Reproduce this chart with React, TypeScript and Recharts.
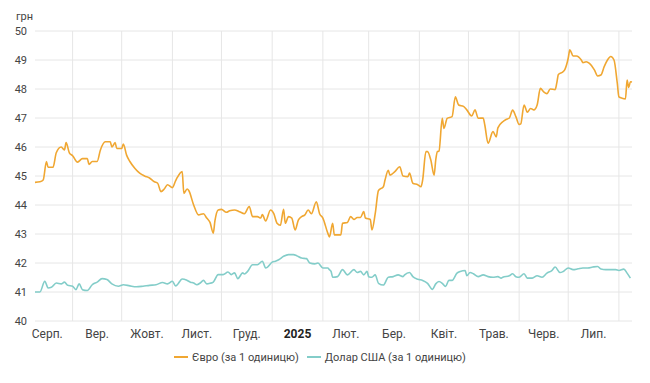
import React from 'react';
import { LineChart, Line, XAxis, YAxis, CartesianGrid, ReferenceLine, Legend } from 'recharts';

// days counted from 1 Aug 2024
const monthStarts = [0, 31, 61, 92, 122, 153, 184, 212, 243, 273, 304, 334, 365];
const monthLabels = ['Серп.', 'Вер.', 'Жовт.', 'Лист.', 'Груд.', '2025', 'Лют.', 'Бер.', 'Квіт.', 'Трав.', 'Черв.', 'Лип.'];
const yTicks = [40, 41, 42, 43, 44, 45, 46, 47, 48, 49, 50];

const euroRates: [number, number][] = [
  [8, 44.78], [11, 44.8], [13, 44.86], [15, 45.5], [16, 45.3], [19, 45.3], [21, 45.8], [24, 46.0],
  [26, 45.9], [27, 46.15], [29, 45.8], [31, 45.7], [34, 45.48], [37, 45.6], [40, 45.6], [41, 45.4],
  [43, 45.5], [46, 45.5], [48, 45.9], [51, 46.18], [54, 46.18], [55, 46.0], [57, 46.15], [58, 45.95],
  [61, 45.95], [62, 46.1], [64, 45.72], [66, 45.5], [69, 45.27], [72, 45.1], [75, 45.0], [78, 44.93],
  [81, 44.8], [83, 44.75], [85, 44.46], [87, 44.55], [89, 44.7], [92, 44.6], [94, 44.84], [95, 44.95],
  [98, 45.15], [99, 44.4], [101, 44.55], [102, 44.5], [105, 44.0], [108, 43.66], [111, 43.7], [113, 43.55],
  [115, 43.4], [117, 43.03], [118, 43.45], [120, 43.83], [122, 43.85], [125, 43.75], [127, 43.8], [130, 43.83],
  [133, 43.77], [136, 43.7], [139, 43.95], [141, 43.6], [144, 43.6], [146, 43.55], [147, 43.67], [149, 43.45],
  [152, 43.83], [154, 43.7], [156, 43.37], [158, 43.3], [160, 43.85], [161, 43.37], [163, 43.6], [165, 43.55],
  [167, 43.14], [169, 43.48], [171, 43.6], [173, 43.66], [175, 43.83], [177, 43.7], [180, 44.11], [182, 43.7],
  [184, 43.55], [187, 43.03], [188, 42.9], [190, 43.37], [191, 42.97], [195, 42.97], [196, 43.37], [199, 43.4],
  [201, 43.6], [203, 43.5], [205, 43.57], [207, 43.57], [209, 43.77], [210, 43.55], [213, 43.5], [214, 43.14],
  [216, 43.7], [218, 44.5], [221, 44.63], [222, 44.86], [224, 45.2], [225, 45.03], [228, 45.15], [231, 45.32],
  [233, 45.0], [236, 44.98], [237, 45.1], [239, 44.75], [242, 44.7], [244, 44.63], [245, 44.86], [247, 45.84],
  [248, 45.84], [250, 45.55], [252, 45.03], [253, 45.55], [254, 45.84], [255, 45.86], [257, 46.99], [258, 46.64],
  [260, 46.99], [263, 47.05], [265, 47.73], [267, 47.45], [270, 47.4], [272, 47.28], [275, 47.07], [277, 47.28],
  [279, 46.99], [282, 47.0], [283, 46.76], [285, 46.13], [288, 46.53], [290, 46.35], [291, 46.66], [294, 46.87],
  [296, 46.95], [298, 47.0], [300, 47.27], [302, 47.05], [304, 46.78], [305, 46.8], [307, 47.45], [309, 47.2],
  [311, 47.33], [313, 47.28], [315, 47.45], [317, 48.02], [319, 47.9], [321, 47.84], [323, 48.0], [326, 47.98],
  [327, 48.2], [328, 48.5], [331, 48.6], [332, 48.68], [334, 49.06], [335, 49.35], [337, 49.14], [339, 49.14],
  [342, 49.0], [343, 48.91], [345, 48.94], [347, 48.88], [350, 48.66], [352, 48.45], [354, 48.48], [356, 48.77],
  [358, 49.0], [360, 49.12], [362, 49.0], [364, 48.2], [365, 47.73], [367, 47.68], [369, 47.66], [370, 48.31],
  [371, 48.05], [372, 48.25], [373, 48.24],
];

const usdRates: [number, number][] = [
  [8, 41.0], [11, 41.0], [14, 41.37], [16, 41.14], [18, 41.16], [21, 41.31], [24, 41.28], [26, 41.34],
  [28, 41.23], [31, 41.2], [33, 41.08], [35, 41.28], [37, 41.08], [40, 41.05], [43, 41.25], [46, 41.34],
  [49, 41.46], [52, 41.43], [55, 41.28], [59, 41.2], [62, 41.25], [66, 41.21], [70, 41.18], [74, 41.2],
  [78, 41.23], [82, 41.25], [86, 41.33], [89, 41.28], [92, 41.37], [94, 41.21], [95, 41.25], [98, 41.45],
  [101, 41.4], [103, 41.34], [105, 41.31], [107, 41.25], [109, 41.31], [111, 41.4], [113, 41.28], [115, 41.3],
  [117, 41.34], [120, 41.6], [123, 41.6], [126, 41.69], [128, 41.6], [130, 41.66], [132, 41.46], [135, 41.66],
  [136, 41.62], [138, 41.71], [141, 41.94], [144, 41.94], [147, 42.06], [149, 41.83], [150, 41.85], [153, 42.03],
  [155, 42.06], [157, 42.11], [160, 42.23], [163, 42.29], [166, 42.29], [168, 42.25], [171, 42.17], [174, 42.15],
  [176, 42.0], [179, 41.97], [181, 42.0], [184, 41.83], [187, 41.83], [188, 41.77], [189, 41.71], [190, 41.51],
  [193, 41.53], [196, 41.77], [199, 41.59], [203, 41.77], [205, 41.67], [207, 41.71], [209, 41.59], [211, 41.71],
  [212, 41.53], [214, 41.51], [216, 41.59], [218, 41.3], [221, 41.24], [224, 41.51], [227, 41.53], [230, 41.59],
  [233, 41.53], [234, 41.59], [237, 41.67], [239, 41.53], [242, 41.44], [245, 41.4], [248, 41.3], [251, 41.09],
  [253, 41.28], [255, 41.36], [257, 41.3], [259, 41.19], [261, 41.4], [263, 41.4], [266, 41.65], [268, 41.71],
  [271, 41.74], [272, 41.56], [274, 41.67], [276, 41.63], [279, 41.53], [282, 41.59], [285, 41.53], [288, 41.51],
  [291, 41.53], [293, 41.48], [294, 41.51], [298, 41.56], [300, 41.63], [302, 41.53], [304, 41.51], [307, 41.63],
  [309, 41.48], [312, 41.48], [315, 41.56], [318, 41.51], [321, 41.65], [324, 41.74], [326, 41.86], [329, 41.67],
  [331, 41.71], [334, 41.83], [337, 41.77], [340, 41.8], [343, 41.83], [346, 41.83], [349, 41.86], [352, 41.88],
  [354, 41.79], [357, 41.77], [360, 41.77], [363, 41.77], [365, 41.74], [368, 41.79], [370, 41.65], [372, 41.48],
];

const EURO_COLOR = '#f0a732';
const USD_COLOR = '#83cdc9';
const GRID = '#e6e6e6';

const euroData = euroRates.map(([day, value]) => ({ day, value }));
const usdData = usdRates.map(([day, value]) => ({ day, value }));
const labelTicks = monthLabels.map((_, i) => (monthStarts[i] + monthStarts[i + 1]) / 2);

const MonthTick = (props: any) => {
  const { x, y, payload } = props;
  const label = monthLabels[labelTicks.indexOf(payload.value)];
  return (
    <text
      x={x}
      y={y}
      dy={9}
      textAnchor="middle"
      fontSize={12}
      fill={label === '2025' ? '#222' : '#444'}
      fontWeight={label === '2025' ? 700 : 400}
    >
      {label}
    </text>
  );
};

const LegendBox = () => (
  <div style={{ display: 'flex', justifyContent: 'center', paddingLeft: 8, fontSize: 11, color: '#444', height: 20, alignItems: 'center' }}>
    {[
      { name: 'Євро (за 1 одиницю)', color: EURO_COLOR },
      { name: 'Долар США (за 1 одиницю)', color: USD_COLOR },
    ].map((item) => (
      <span key={item.name} style={{ display: 'flex', alignItems: 'center', margin: '0 4px' }}>
        <span style={{ display: 'inline-block', width: 14, height: 2, background: item.color, marginRight: 4 }} />
        {item.name}
      </span>
    ))}
  </div>
);

export default function App() {
  return (
    <div style={{ position: 'absolute', left: 0, top: 0, width: 650, height: 383, background: '#fff', fontFamily: 'Roboto, sans-serif' }}>
      <div style={{ position: 'absolute', left: 16, top: 10, fontSize: 11, color: '#444' }}>грн</div>
      <LineChart width={650} height={383} margin={{ top: 31, right: 18, left: 0, bottom: 16 }}>
        <CartesianGrid vertical={false} stroke={GRID} />
        {monthStarts.slice(1).map((d) => (
          <ReferenceLine key={d} x={d} stroke={GRID} />
        ))}
        <XAxis
          type="number"
          dataKey="day"
          domain={[8, 373]}
          ticks={labelTicks}
          tick={<MonthTick />}
          axisLine={false}
          tickLine={false}
          height={26}
          allowDuplicatedCategory={false}
        />
        <YAxis
          type="number"
          domain={[40, 50]}
          ticks={yTicks}
          width={35}
          axisLine={false}
          tickLine={false}
          tick={{ fontSize: 11, fill: '#444' }}
        />
        <Legend verticalAlign="bottom" height={20} content={<LegendBox />} />
        <Line data={euroData} dataKey="value" type="monotone" stroke={EURO_COLOR} strokeWidth={1.6} dot={false} isAnimationActive={false} name="Євро (за 1 одиницю)" />
        <Line data={usdData} dataKey="value" type="monotone" stroke={USD_COLOR} strokeWidth={1.6} dot={false} isAnimationActive={false} name="Долар США (за 1 одиницю)" />
      </LineChart>
    </div>
  );
}
